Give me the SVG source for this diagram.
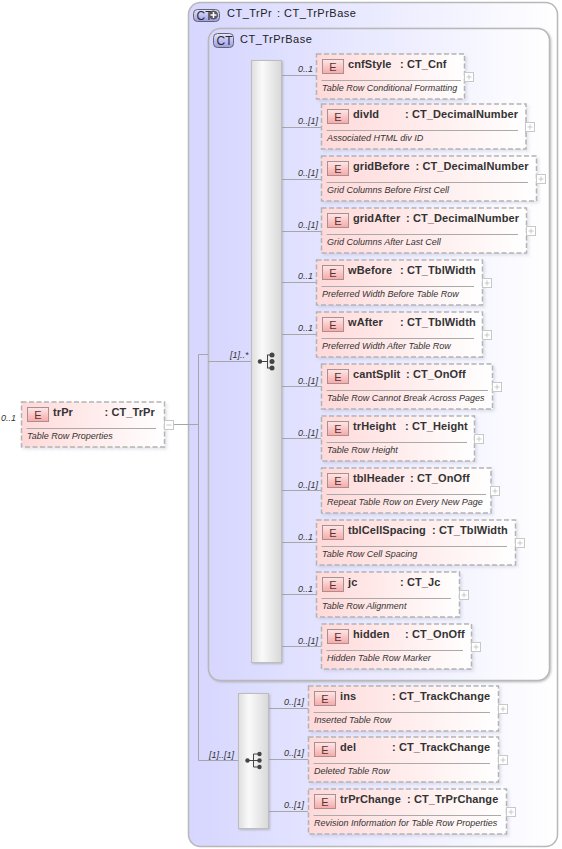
<svg xmlns="http://www.w3.org/2000/svg" width="562" height="849" viewBox="0 0 562 849">
<style>
text{font-family:"Liberation Sans",Arial,sans-serif;fill:#2a2a2a}
.t{font-size:11px;font-weight:bold;letter-spacing:.1px;fill:#333}
.h{font-size:11px;letter-spacing:.5px;fill:#222}
.d{font-size:9px;font-style:italic;fill:#333}
.m{font-size:9px;font-style:italic;fill:#333;text-anchor:end}
.e{font-size:11px;fill:#5a3434;text-anchor:middle}
.n{fill:url(#nf);stroke:#b4b4b4;stroke-width:1.5;stroke-dasharray:5 2.5;filter:url(#ns)}
.s{fill:none;stroke:#aaa;stroke-width:1}
.eb{fill:url(#ef);stroke:#a89090;stroke-width:1}
.p{fill:#fff;stroke:#c8c8c8;stroke-width:1}
.pm{stroke:#c8c8c8;stroke-width:1;fill:none}
.c{fill:none;stroke:#a6a6a6;stroke-width:1}
.bx{fill:url(#bf);stroke:#b8b8b8;stroke-width:1.5}
.cp{fill:url(#cf);stroke:#bdbdbd;stroke-width:1;filter:url(#sh)}
.sy{fill:none;stroke:#444;stroke-width:1}
.dt{fill:#444}
</style>
<defs>
<linearGradient id="nf" x1="0" x2="1" y1="0" y2="0"><stop offset="0" stop-color="#ffd9d9"/><stop offset="1" stop-color="#fff"/></linearGradient>
<linearGradient id="ef" x1="0" x2="0" y1="0" y2="1"><stop offset="0" stop-color="#fde8e8"/><stop offset="1" stop-color="#f8a8a8"/></linearGradient>
<linearGradient id="bf" x1="0" x2="1" y1="0" y2="0"><stop offset="0" stop-color="#d6d6ff"/><stop offset="1" stop-color="#fff"/></linearGradient>
<linearGradient id="cf" x1="0" x2="1" y1="0" y2="0"><stop offset="0" stop-color="#dedede"/><stop offset=".35" stop-color="#fafafa"/><stop offset="1" stop-color="#d8d8d8"/></linearGradient>
<linearGradient id="bd" x1="0" x2="0" y1="0" y2="1"><stop offset="0" stop-color="#e4e4ff"/><stop offset="1" stop-color="#9c9ce8"/></linearGradient>
<filter id="sh" x="-10%" y="-2%" width="125%" height="105%"><feDropShadow dx="1" dy="1" stdDeviation="1" flood-color="#999" flood-opacity=".6"/></filter>
<filter id="ns" x="-5%" y="-10%" width="115%" height="130%"><feDropShadow dx="2" dy="2" stdDeviation="1.500" flood-color="#88a" flood-opacity=".22"/></filter>
<g id="el"><rect class="eb" x="6.500" y="6.500" width="21" height="14"/><text class="e" x="17" y="18">E</text></g>
</defs>

<g id="box-CT_TrPr">
<rect class="bx" x="188.500" y="2.500" width="369" height="844" rx="12"/>
<rect x="193.500" y="9.500" width="26" height="12" rx="4" fill="url(#bd)" stroke="#666"/>
<text x="196.500" y="20" font-size="12" fill="#222">CT</text>
<circle cx="213.500" cy="15" r="4.500" fill="#556"/><path d="M210.500 15h6M213.500 12v6" stroke="#fff" stroke-width="1.500"/>
<text class="h" x="227" y="17">CT_TrPr</text><text class="h" x="277" y="17">: CT_TrPrBase</text>
</g>
<g id="box-CT_TrPrBase">
<rect class="bx" x="208.500" y="28.500" width="341" height="652" rx="12" filter="url(#sh)"/>
<rect x="213.500" y="33.500" width="20" height="14" rx="4" fill="url(#bd)" stroke="#666"/>
<text x="216.500" y="44.500" font-size="12" fill="#222">CT</text>
<text class="h" x="240" y="43">CT_TrPrBase</text>
</g>

<g id="connectors">
<path class="c" d="M174 424.500H198.500M198.500 354.500V760.500M198.500 354.500H208M208 361.500H251M198.500 760.500H238"/>
<path class="c" d="M281 75.500H316M281 127.500H321M281 179.500H321M281 231.500H321M281 282.500H316M281 334.500H316M281 386.500H321M281 438.500H321M281 490.500H321M281 542.500H316M281 594.500H316M281 646.500H321M268 708.500H308M268 759.500H308M268 811.500H308"/>
</g>

<g id="seq1">
<rect class="cp" x="251.500" y="60.500" width="30" height="602"/>
<circle class="dt" cx="260" cy="361.500" r="2.200"/><path class="sy" d="M260 361.500H267M267.500 355V368M267 355H272M267 368H272"/>
<circle class="dt" cx="272" cy="355" r="2.500"/><circle class="dt" cx="272" cy="361.500" r="2.500"/><circle class="dt" cx="272" cy="368" r="2.500"/>
<text class="m" x="248.500" y="358">[1]..*</text>
</g>
<g id="seq2">
<rect class="cp" x="238.500" y="693.500" width="30" height="135"/>
<circle class="dt" cx="247.500" cy="760.500" r="2.200"/><path class="sy" d="M248 760.500H253M253.500 754V767H259M253.500 754H259M253.500 760.500H259"/>
<circle class="dt" cx="259.500" cy="754" r="2.200"/><circle class="dt" cx="259.500" cy="760.500" r="2.200"/><circle class="dt" cx="259.500" cy="767" r="2.200"/>
<text class="m" x="234" y="758">[1]..[1]</text>
</g>

<g id="n-trPr" transform="translate(21 401)">
<rect class="n" x=".5" y="1" width="143" height="45"/><use href="#el"/>
<text class="t" x="32" y="15">trPr</text><text class="t" x="83.500" y="15">: CT_TrPr</text>
<path class="s" d="M5.500 27.500H135"/><text class="d" x="6" y="37.500">Table Row Properties</text>
<rect class="p" x="143.500" y="19.500" width="9" height="9"/><path class="pm" d="M145.500 24H150.500"/>
<text class="m" x="-5" y="20">0..1</text>
</g>
<g id="n-cnfStyle" transform="translate(316 53)">
<rect class="n" x=".5" y="1" width="148" height="45"/><use href="#el"/>
<text class="t" x="32" y="15">cnfStyle</text><text class="t" x="84" y="15">: CT_Cnf</text>
<path class="s" d="M5.500 27.500H145"/><text class="d" x="6" y="37.500">Table Row Conditional Formatting</text>
<rect class="p" x="148.500" y="19.500" width="9" height="9"/><path class="pm" d="M150.500 24H155.500M153 21.500V26.500"/>
<text class="m" x="-3" y="19">0..1</text>
</g>
<g id="n-divId" transform="translate(321 103)">
<rect class="n" x=".5" y="1" width="204.500" height="45"/><use href="#el"/>
<text class="t" x="32" y="15">divId</text><text class="t" x="84" y="15">: CT_DecimalNumber</text>
<path class="s" d="M5.500 27.500H197"/><text class="d" x="6" y="37.500">Associated HTML div ID</text>
<rect class="p" x="204.500" y="19.500" width="9" height="9"/><path class="pm" d="M206.500 24H211.500M209 21.500V26.500"/>
<text class="m" x="-3" y="21">0..[1]</text>
</g>
<g id="n-gridBefore" transform="translate(321 155)">
<rect class="n" x=".5" y="1" width="215" height="45"/><use href="#el"/>
<text class="t" x="32" y="15">gridBefore</text><text class="t" x="94.500" y="15">: CT_DecimalNumber</text>
<path class="s" d="M5.500 27.500H207"/><text class="d" x="6" y="37.500">Grid Columns Before First Cell</text>
<rect class="p" x="215.500" y="19.500" width="9" height="9"/><path class="pm" d="M217.500 24H222.500M220 21.500V26.500"/>
<text class="m" x="-3" y="21">0..[1]</text>
</g>
<g id="n-gridAfter" transform="translate(321 207)">
<rect class="n" x=".5" y="1" width="205" height="45"/><use href="#el"/>
<text class="t" x="32" y="15">gridAfter</text><text class="t" x="85" y="15">: CT_DecimalNumber</text>
<path class="s" d="M5.500 27.500H197"/><text class="d" x="6" y="37.500">Grid Columns After Last Cell</text>
<rect class="p" x="205.500" y="19.500" width="9" height="9"/><path class="pm" d="M207.500 24H212.500M210 21.500V26.500"/>
<text class="m" x="-3" y="21">0..[1]</text>
</g>
<g id="n-wBefore" transform="translate(316 259)">
<rect class="n" x=".5" y="1" width="166" height="45"/><use href="#el"/>
<text class="t" x="32" y="15">wBefore</text><text class="t" x="84" y="15">: CT_TblWidth</text>
<path class="s" d="M5.500 27.500H158"/><text class="d" x="6" y="37.500">Preferred Width Before Table Row</text>
<rect class="p" x="166.500" y="19.500" width="9" height="9"/><path class="pm" d="M168.500 24H173.500M171 21.500V26.500"/>
<text class="m" x="-3" y="20">0..1</text>
</g>
<g id="n-wAfter" transform="translate(316 311)">
<rect class="n" x=".5" y="1" width="166" height="45"/><use href="#el"/>
<text class="t" x="32" y="15">wAfter</text><text class="t" x="84" y="15">: CT_TblWidth</text>
<path class="s" d="M5.500 27.500H158"/><text class="d" x="6" y="37.500">Preferred Width After Table Row</text>
<rect class="p" x="166.500" y="19.500" width="9" height="9"/><path class="pm" d="M168.500 24H173.500M171 21.500V26.500"/>
<text class="m" x="-3" y="20">0..1</text>
</g>
<g id="n-cantSplit" transform="translate(321 363)">
<rect class="n" x=".5" y="1" width="171" height="45"/><use href="#el"/>
<text class="t" x="32" y="15">cantSplit</text><text class="t" x="85" y="15">: CT_OnOff</text>
<path class="s" d="M5.500 27.500H167"/><text class="d" x="6" y="37.500">Table Row Cannot Break Across Pages</text>
<rect class="p" x="171.500" y="19.500" width="9" height="9"/><path class="pm" d="M173.500 24H178.500M176 21.500V26.500"/>
<text class="m" x="-3" y="21">0..[1]</text>
</g>
<g id="n-trHeight" transform="translate(321 415)">
<rect class="n" x=".5" y="1" width="153" height="45"/><use href="#el"/>
<text class="t" x="32" y="15">trHeight</text><text class="t" x="84" y="15">: CT_Height</text>
<path class="s" d="M5.500 27.500H146"/><text class="d" x="6" y="37.500">Table Row Height</text>
<rect class="p" x="153.500" y="19.500" width="9" height="9"/><path class="pm" d="M155.500 24H160.500M158 21.500V26.500"/>
<text class="m" x="-3" y="21">0..[1]</text>
</g>
<g id="n-tblHeader" transform="translate(321 467)">
<rect class="n" x=".5" y="1" width="169.500" height="45"/><use href="#el"/>
<text class="t" x="32" y="15">tblHeader</text><text class="t" x="89" y="15">: CT_OnOff</text>
<path class="s" d="M5.500 27.500H165"/><text class="d" x="6" y="37.500">Repeat Table Row on Every New Page</text>
<rect class="p" x="169.500" y="19.500" width="9" height="9"/><path class="pm" d="M171.500 24H176.500M174 21.500V26.500"/>
<text class="m" x="-3" y="21">0..[1]</text>
</g>
<g id="n-tblCellSpacing" transform="translate(316 519)">
<rect class="n" x=".5" y="1" width="199" height="45"/><use href="#el"/>
<text class="t" x="32" y="15">tblCellSpacing</text><text class="t" x="116" y="15">: CT_TblWidth</text>
<path class="s" d="M5.500 27.500H191"/><text class="d" x="6" y="37.500">Table Row Cell Spacing</text>
<rect class="p" x="199.500" y="19.500" width="9" height="9"/><path class="pm" d="M201.500 24H206.500M204 21.500V26.500"/>
<text class="m" x="-3" y="21">0..1</text>
</g>
<g id="n-jc" transform="translate(316 571)">
<rect class="n" x=".5" y="1" width="143" height="45"/><use href="#el"/>
<text class="t" x="32" y="15">jc</text><text class="t" x="84" y="15">: CT_Jc</text>
<path class="s" d="M5.500 27.500H135"/><text class="d" x="6" y="37.500">Table Row Alignment</text>
<rect class="p" x="143.500" y="19.500" width="9" height="9"/><path class="pm" d="M145.500 24H150.500M148 21.500V26.500"/>
<text class="m" x="-3" y="21">0..1</text>
</g>
<g id="n-hidden" transform="translate(321 623)">
<rect class="n" x=".5" y="1" width="150" height="45"/><use href="#el"/>
<text class="t" x="32" y="15">hidden</text><text class="t" x="84" y="15">: CT_OnOff</text>
<path class="s" d="M5.500 27.500H142"/><text class="d" x="6" y="37.500">Hidden Table Row Marker</text>
<rect class="p" x="150.500" y="19.500" width="9" height="9"/><path class="pm" d="M152.500 24H157.500M155 21.500V26.500"/>
<text class="m" x="-3" y="21">0..[1]</text>
</g>
<g id="n-ins" transform="translate(308 685)">
<rect class="n" x=".5" y="1" width="190" height="45"/><use href="#el"/>
<text class="t" x="32" y="15">ins</text><text class="t" x="84" y="15">: CT_TrackChange</text>
<path class="s" d="M5.500 27.500H182"/><text class="d" x="6" y="37.500">Inserted Table Row</text>
<rect class="p" x="190.500" y="19.500" width="9" height="9"/><path class="pm" d="M192.500 24H197.500M195 21.500V26.500"/>
<text class="m" x="-4" y="20">0..[1]</text>
</g>
<g id="n-del" transform="translate(308 736)">
<rect class="n" x=".5" y="1" width="190" height="45"/><use href="#el"/>
<text class="t" x="32" y="15">del</text><text class="t" x="84" y="15">: CT_TrackChange</text>
<path class="s" d="M5.500 27.500H182"/><text class="d" x="6" y="37.500">Deleted Table Row</text>
<rect class="p" x="190.500" y="19.500" width="9" height="9"/><path class="pm" d="M192.500 24H197.500M195 21.500V26.500"/>
<text class="m" x="-4" y="20">0..[1]</text>
</g>
<g id="n-trPrChange" transform="translate(308 788)">
<rect class="n" x=".5" y="1" width="198" height="45"/><use href="#el"/>
<text class="t" x="32" y="15">trPrChange</text><text class="t" x="99" y="15">: CT_TrPrChange</text>
<path class="s" d="M5.500 27.500H193"/><text class="d" x="6" y="37.500">Revision Information for Table Row Properties</text>
<rect class="p" x="198.500" y="19.500" width="9" height="9"/><path class="pm" d="M200.500 24H205.500M203 21.500V26.500"/>
<text class="m" x="-4" y="20">0..[1]</text>
</g>
</svg>
